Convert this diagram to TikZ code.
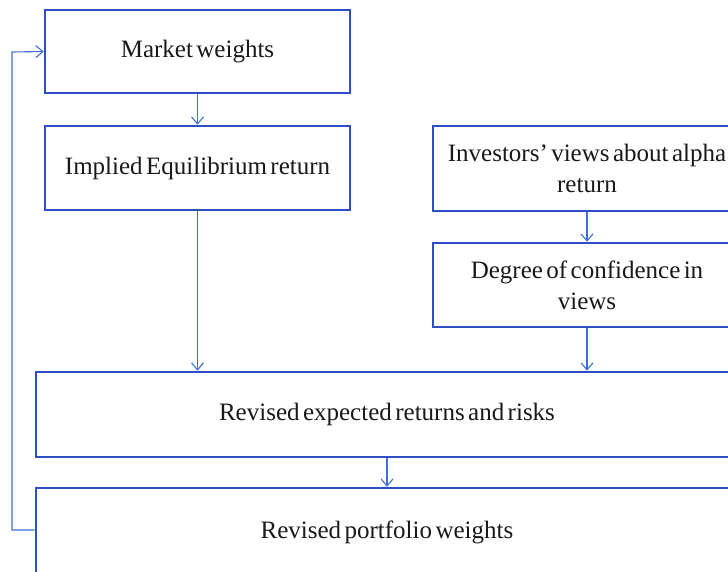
\documentclass[tikz,border=0pt]{standalone}
\usepackage{fontspec}
\setmainfont{Liberation Serif}[WordSpace=0.55]
\usetikzlibrary{arrows.meta}
\definecolor{boxblue}{HTML}{2E4FC4}
\definecolor{arrblue}{HTML}{3F6FD6}
\begin{document}
\begin{tikzpicture}[x=1pt,y=-1pt,
  box/.style={draw=boxblue,line width=2.6pt,rectangle,inner sep=0pt,align=center,
    font=\fontsize{25}{31}\selectfont,text=black!90},
  conn/.style={draw=arrblue,line width=1.1pt,-{Straight Barb[length=7pt,width=12pt,line width=1.1pt]}}]
\useasboundingbox[fill=white] (0,0) rectangle (728,571);
\node[box,minimum width=305,minimum height=83] (mw) at (197.5,51.5) {Market weights};
\node[box,minimum width=305,minimum height=84] (ie) at (197.5,168) {Implied Equilibrium return};
\node[box,minimum width=308,minimum height=85] (iv) at (587,168.5) {Investors’ views about alpha\\return};
\node[box,minimum width=308,minimum height=84] (dc) at (587,285) {Degree of confidence in\\views};
\node[box,minimum width=702,minimum height=85] (re) at (387,414.5) {Revised expected returns and risks};
\node[box,minimum width=702,minimum height=88] (rp) at (387,532) {Revised portfolio weights};
\coordinate (c1) at (12,530);
\coordinate (c2) at (12,52);
\draw[conn] (mw.south) -- (ie.north);
\draw[conn] (iv.south) -- (dc.north);
\draw[conn] (ie.south) -- (ie.south |- re.north);
\draw[conn] (dc.south) -- (dc.south |- re.north);
\draw[conn] (re.south) -- (rp.north);
\draw[conn] (rp.west |- c1) -- (c1) -- (c2) -- (mw.west);
\end{tikzpicture}
\end{document}
